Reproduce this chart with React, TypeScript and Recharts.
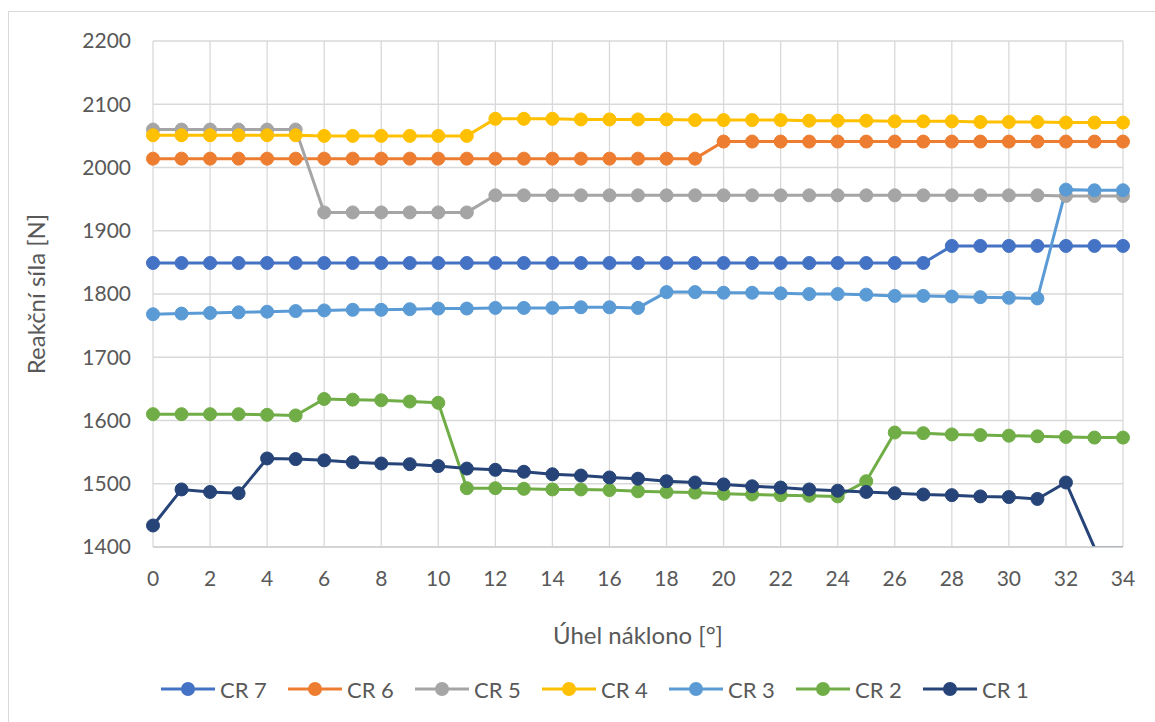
import React from "react";
import { LineChart, Line, XAxis, YAxis, CartesianGrid } from "recharts";

// tilt angle [deg]
const angles = [
  0, 1, 2, 3, 4, 5, 6, 7, 8, 9, 10, 11, 12, 13, 14, 15, 16, 17, 18, 19, 20, 21,
  22, 23, 24, 25, 26, 27, 28, 29, 30, 31, 32, 33, 34,
];

// reaction forces [N]
const cr7 = [
  1849, 1849, 1849, 1849, 1849, 1849, 1849, 1849, 1849, 1849, 1849, 1849, 1849,
  1849, 1849, 1849, 1849, 1849, 1849, 1849, 1849, 1849, 1849, 1849, 1849, 1849,
  1849, 1849, 1876, 1876, 1876, 1876, 1876, 1876, 1876,
];
const cr6 = [
  2014, 2014, 2014, 2014, 2014, 2014, 2014, 2014, 2014, 2014, 2014, 2014, 2014,
  2014, 2014, 2014, 2014, 2014, 2014, 2014, 2041, 2041, 2041, 2041, 2041, 2041,
  2041, 2041, 2041, 2041, 2041, 2041, 2041, 2041, 2041,
];
const cr5 = [
  2060, 2060, 2060, 2060, 2060, 2060, 1929, 1929, 1929, 1929, 1929, 1929, 1956,
  1956, 1956, 1956, 1956, 1956, 1956, 1956, 1956, 1956, 1956, 1956, 1956, 1956,
  1956, 1956, 1956, 1956, 1956, 1956, 1955, 1955, 1955,
];
const cr4 = [
  2051, 2051, 2051, 2051, 2051, 2051, 2050, 2050, 2050, 2050, 2050, 2050, 2077,
  2077, 2077, 2076, 2076, 2076, 2076, 2075, 2075, 2075, 2075, 2074, 2074, 2074,
  2073, 2073, 2073, 2072, 2072, 2072, 2071, 2071, 2071,
];
const cr3 = [
  1768, 1769, 1770, 1771, 1772, 1773, 1774, 1775, 1775, 1776, 1777, 1777, 1778,
  1778, 1778, 1779, 1779, 1778, 1803, 1803, 1802, 1802, 1801, 1800, 1800, 1799,
  1797, 1797, 1796, 1795, 1794, 1793, 1965, 1964, 1964,
];
const cr2 = [
  1610, 1610, 1610, 1610, 1609, 1608, 1634, 1633, 1632, 1630, 1628, 1493, 1493,
  1492, 1491, 1491, 1490, 1488, 1487, 1486, 1484, 1483, 1482, 1481, 1480, 1504,
  1581, 1580, 1578, 1577, 1576, 1575, 1574, 1573, 1573,
];
const cr1 = [
  1434, 1491, 1487, 1485, 1540, 1539, 1537, 1534, 1532, 1531, 1528, 1524, 1522,
  1519, 1515, 1513, 1510, 1508, 1504, 1502, 1499, 1496, 1494, 1491, 1489, 1487,
  1485, 1483, 1482, 1480, 1479, 1476, 1502, 1399, 1399,
];

const xTicks = [0, 2, 4, 6, 8, 10, 12, 14, 16, 18, 20, 22, 24, 26, 28, 30, 32, 34];
const yTicks = [1400, 1500, 1600, 1700, 1800, 1900, 2000, 2100, 2200];
const Y_MIN = 1400;
const Y_MAX = 2200;

const series = [
  { key: "cr7", name: "CR 7", color: "#4472C4", values: cr7 },
  { key: "cr6", name: "CR 6", color: "#ED7D31", values: cr6 },
  { key: "cr5", name: "CR 5", color: "#A5A5A5", values: cr5 },
  { key: "cr4", name: "CR 4", color: "#FFC000", values: cr4 },
  { key: "cr3", name: "CR 3", color: "#5B9BD5", values: cr3 },
  { key: "cr2", name: "CR 2", color: "#70AD47", values: cr2 },
  { key: "cr1", name: "CR 1", color: "#264478", values: cr1 },
];

// each row keeps the raw value and a marker value (null when off the axis)
const data = angles.map((x, i) => {
  const row: Record<string, number | null> = { x };
  series.forEach((s) => {
    const v = s.values[i];
    row[s.key] = v;
    row[s.key + "_m"] = v >= Y_MIN && v <= Y_MAX ? v : null;
  });
  return row;
});

const FONT = "Lato, 'Open Sans', sans-serif";
const TEXT = "#595959";
const GRID = "#d9d9d9";

const Legend = () => (
  <div
    style={{
      position: "absolute",
      left: 161,
      top: 676,
      display: "flex",
      fontFamily: FONT,
      fontSize: 22,
      color: TEXT,
    }}
  >
    {series.map((s) => (
      <div
        key={s.key}
        style={{ width: 127, display: "flex", alignItems: "center", height: 26 }}
      >
        <svg width={54} height={16}>
          <line x1={0} y1={8} x2={54} y2={8} stroke={s.color} strokeWidth={3} />
          <circle cx={27} cy={8} r={7} fill={s.color} />
        </svg>
        <span style={{ marginLeft: 5 }}>{s.name}</span>
      </div>
    ))}
  </div>
);

const App: React.FC = () => {
  return (
    <div
      style={{
        position: "absolute",
        left: 0,
        top: 0,
        width: 1155,
        height: 722,
        overflow: "hidden",
        background: "#fff",
      }}
    >
      <div
        style={{
          position: "absolute",
          left: 8,
          top: 11,
          width: 1200,
          height: 800,
          border: `1px solid ${GRID}`,
        }}
      />
      <LineChart
        width={1155}
        height={722}
        data={data}
        margin={{ top: 41, right: 32, bottom: 145, left: 93 }}
        style={{ position: "absolute", left: 0, top: 0, fontFamily: FONT }}
      >
        <CartesianGrid stroke={GRID} strokeWidth={1.3} />
        <XAxis
          dataKey="x"
          type="number"
          domain={[0, 34]}
          ticks={xTicks}
          interval={0}
          height={30}
          tickLine={false}
          tickMargin={18}
          axisLine={{ stroke: "#cfcfcf", strokeWidth: 1.3 }}
          tick={{ fill: TEXT, fontSize: 21, fontFamily: FONT }}
        />
        <YAxis
          type="number"
          domain={[Y_MIN, Y_MAX]}
          ticks={yTicks}
          interval={0}
          allowDataOverflow
          width={60}
          tickLine={false}
          axisLine={false}
          tickMargin={16}
          tick={{ fill: TEXT, fontSize: 21, fontFamily: FONT }}
        />
        {series.flatMap((s) => [
          <Line
            key={s.key}
            dataKey={s.key}
            name={s.name}
            stroke={s.color}
            strokeWidth={3}
            dot={false}
            activeDot={false}
            isAnimationActive={false}
          />,
          <Line
            key={s.key + "_m"}
            dataKey={s.key + "_m"}
            stroke="none"
            legendType="none"
            dot={{ r: 6.5, fill: s.color, stroke: s.color, strokeWidth: 1, clipDot: false }}
            activeDot={false}
            isAnimationActive={false}
          />,
        ])}
      </LineChart>
      <div
        style={{
          position: "absolute",
          left: 35,
          top: 294,
          transform: "translate(-50%, -50%) rotate(-90deg)",
          whiteSpace: "nowrap",
          fontFamily: FONT,
          fontSize: 24,
          color: TEXT,
        }}
      >
        Reakční síla [N]
      </div>
      <div
        style={{
          position: "absolute",
          left: 638,
          top: 634,
          transform: "translate(-50%, -50%)",
          whiteSpace: "nowrap",
          fontFamily: FONT,
          fontSize: 24,
          color: TEXT,
        }}
      >
        Úhel náklono [°]
      </div>
      <Legend />
    </div>
  );
};

export default App;
